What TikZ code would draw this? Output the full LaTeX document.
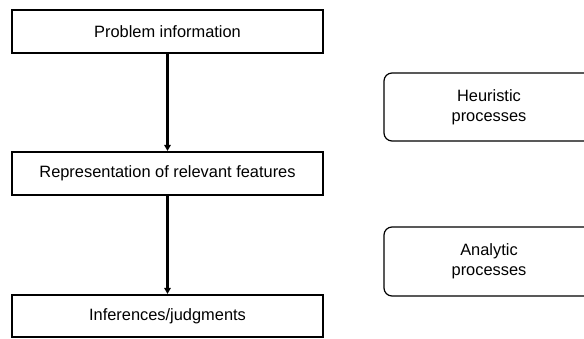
\documentclass[tikz,border=0pt]{standalone}
\usepackage{fontspec}
\setmainfont{Liberation Sans}
\usetikzlibrary{arrows.meta}
\begin{document}
\begin{tikzpicture}[x=1pt,y=-1pt,
  stagebox/.style={draw, line width=2.2pt, rectangle, minimum width=311pt, minimum height=43pt, inner sep=0pt,
    font=\fontsize{16.4}{20}\selectfont},
  procbox/.style={draw, line width=1.2pt, rectangle, rounded corners=8pt, minimum width=210pt, inner sep=0pt,
    align=center, font=\fontsize{16.4}{20}\selectfont},
  flow/.style={line width=2.2pt, -{Triangle[length=6pt,width=6.5pt]}}]
\useasboundingbox (0,0) rectangle (584,338);
\begin{scope}
\clip (0,0) rectangle (584,338);
\node[stagebox] (info) at (167.5,31.5) {Problem information};
\node[stagebox] (repr) at (167.5,173.5) {Representation of relevant features};
\node[stagebox, minimum height=42pt] (infer) at (167.5,316) {Inferences/judgments};
\node[procbox, minimum height=68pt] (heur) at (489,107) {Heuristic\\processes};
\node[procbox, minimum height=69pt] (anal) at (489,261.5) {Analytic\\processes};
\draw[flow] (info.south) -- (repr.north);
\draw[flow] (repr.south) -- (infer.north);
\end{scope}
\end{tikzpicture}
\end{document}
